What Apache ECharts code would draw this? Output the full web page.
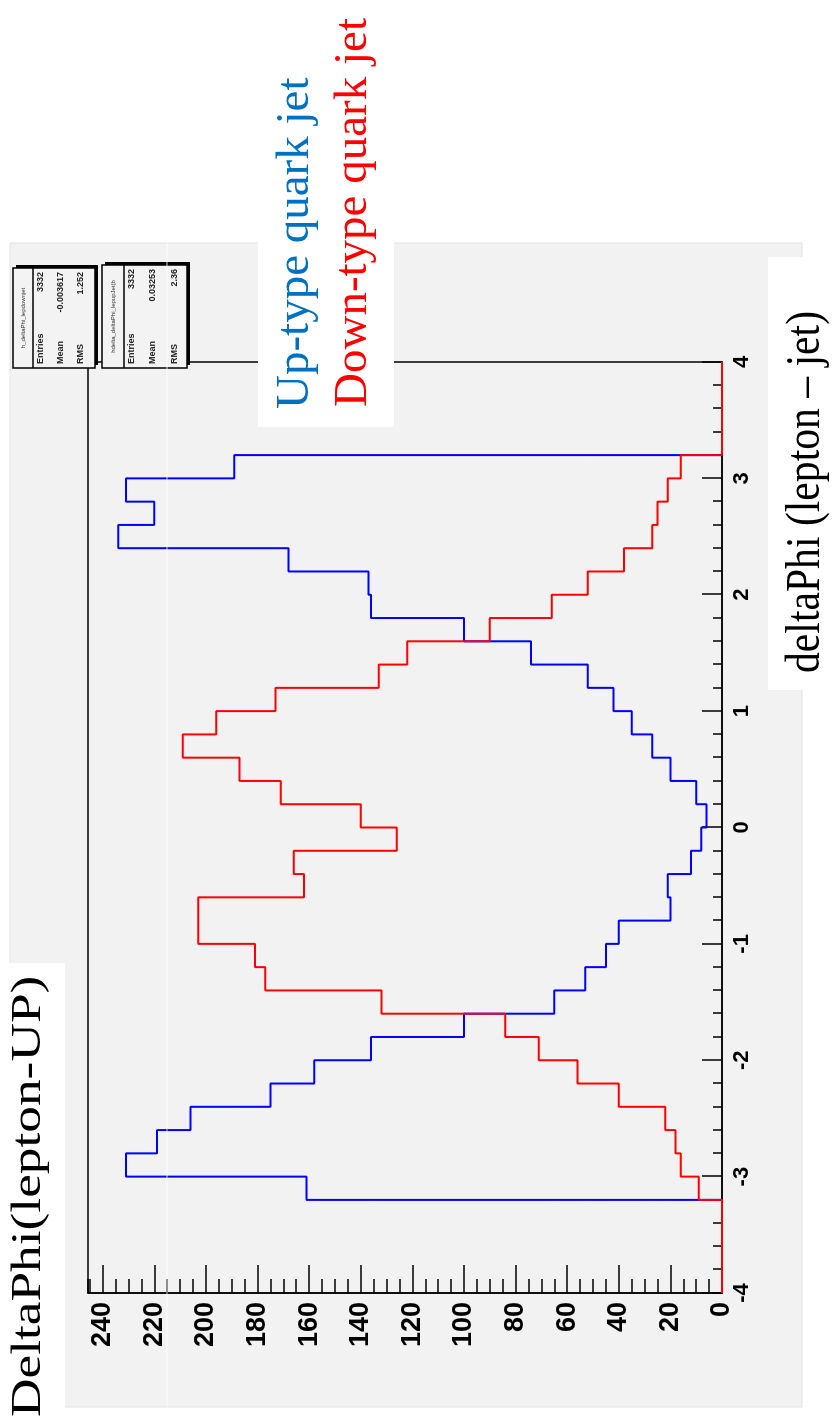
<!DOCTYPE html>
<html>
<head>
<meta charset="utf-8">
<title>deltaPhi lepton - jet</title>
<script src="https://cdn.jsdelivr.net/npm/echarts@6.0.0/dist/echarts.min.js"></script>
<style>
  html, body { margin: 0; padding: 0; background: #fff; }
  body { width: 833px; height: 1427px; overflow: hidden; position: relative; }
  /* the ROOT canvas sits on the slide turned a quarter left: draw it upright and turn the box */
  #chart {
    position: absolute; left: 0; top: 0;
    width: 1427px; height: 833px;
    transform-origin: 0 0;
    transform: translate(0, 1427px) rotate(-90deg);
  }
</style>
</head>
<body>
<div id="chart"></div>
<script>
// 40 bins of 0.2 from -4 to 4
const binEdges = [-4, -3.8, -3.6, -3.4, -3.2, -3, -2.8, -2.6, -2.4, -2.2, -2, -1.8, -1.6, -1.4, -1.2, -1, -0.8, -0.6, -0.4, -0.2,
  0, 0.2, 0.4, 0.6, 0.8, 1, 1.2, 1.4, 1.6, 1.8, 2, 2.2, 2.4, 2.6, 2.8, 3, 3.2, 3.4, 3.6, 3.8, 4]
const upCounts = [0, 0, 0, 0, 161, 231, 219, 206, 175, 158, 136, 100, 65, 53, 45, 40, 20, 21, 12, 8,
  6, 10, 20, 27, 35, 42, 52, 74, 100, 136, 137, 168, 234, 220, 231, 189, 0, 0, 0, 0]
const downCounts = [0, 0, 0, 0, 9, 16, 18, 22, 40, 56, 71, 84, 132, 177, 181, 203, 203, 162, 166, 126,
  140, 171, 187, 209, 196, 173, 133, 122, 90, 66, 52, 38, 27, 25, 21, 16, 0, 0, 0, 0]
const countMax = 245.7
const statLabels = ['Entries', 'Mean', 'RMS']
const downStats = ['3332', '-0.003617', '1.252']
const upStats = ['3332', '0.03253', '2.36']

const serif = '"Liberation Serif", "Times New Roman", serif'
const sans = '"Liberation Sans", Arial, sans-serif'

function steps(counts) {
  return binEdges.map((e, i) => [e, counts[Math.min(i, counts.length - 1)]])
}

function statsBox(x, y, w, h, titleH, title, rowY, values) {
  const els = [
    { type: 'rect', z: 40, shape: { x: x + 3, y: y + 3, width: w, height: h }, style: { fill: '#000' } },
    { type: 'rect', z: 41, shape: { x: x, y: y, width: w, height: h }, style: { fill: '#f3f3f3', stroke: '#000', lineWidth: 1.5 } },
    { type: 'line', z: 42, shape: { x1: x, y1: y + titleH, x2: x + w, y2: y + titleH }, style: { stroke: '#000', lineWidth: 1.5 } },
    { type: 'text', z: 42, style: { text: title, x: x + w / 2, y: y + titleH / 2, align: 'center', verticalAlign: 'middle', font: '6px ' + sans, fill: '#333' } }
  ]
  statLabels.forEach((label, i) => {
    els.push({ type: 'text', z: 42, style: { text: label, x: x + 4, y: rowY[i], align: 'left', verticalAlign: 'middle', font: 'bold 9px ' + sans, fill: '#222' } })
    els.push({ type: 'text', z: 42, style: { text: values[i], x: x + w - 4, y: rowY[i], align: 'right', verticalAlign: 'middle', font: 'bold 9px ' + sans, fill: '#222' } })
  })
  return els
}

const myChart = echarts.init(document.getElementById('chart'))

myChart.setOption({
  animation: false,
  backgroundColor: '#fff',
  grid: {
    left: 134,
    right: 362,
    top: 88,
    bottom: 111,
    show: true,
    borderColor: '#000',
    borderWidth: 1.5,
    backgroundColor: 'transparent'
  },
  xAxis: {
    type: 'value',
    min: -4,
    max: 4,
    interval: 1,
    axisLine: { onZero: false, lineStyle: { color: '#000', width: 1.5 } },
    axisTick: { inside: true, length: 20, lineStyle: { color: '#000', width: 1.5 } },
    minorTick: { show: true, splitNumber: 5, length: 9, lineStyle: { color: '#000', width: 1.5 } },
    axisLabel: { margin: 9, color: '#000', fontFamily: sans, fontWeight: 'bold', fontSize: 22 },
    splitLine: { show: false },
    minorSplitLine: { show: false }
  },
  yAxis: [
    {
      type: 'value',
      min: 0,
      max: countMax,
      interval: 20,
      position: 'left',
      axisLine: { show: true, onZero: false, lineStyle: { color: '#000', width: 1.5 } },
      axisTick: { show: true, inside: true, length: 28, lineStyle: { color: '#000', width: 1.5 } },
      axisLabel: { margin: 9, showMaxLabel: false, color: '#000', fontFamily: sans, fontWeight: 'bold', fontSize: 27 },
      splitLine: { show: false }
    },
    {
      // small ticks every 5 counts
      type: 'value',
      min: 0,
      max: countMax,
      interval: 5,
      position: 'left',
      offset: 0,
      axisLine: { show: false, onZero: false },
      axisTick: { show: true, inside: true, length: 14, lineStyle: { color: '#000', width: 1.5 } },
      axisLabel: { show: false },
      splitLine: { show: false }
    }
  ],
  series: [
    {
      name: 'Up-type quark jet',
      type: 'line',
      step: 'end',
      data: steps(upCounts),
      yAxisIndex: 0,
      showSymbol: false,
      clip: false,
      z: 3,
      lineStyle: { color: '#0000ff', width: 2 },
      itemStyle: { color: '#0000ff' }
    },
    {
      name: 'Down-type quark jet',
      type: 'line',
      step: 'end',
      data: steps(downCounts),
      yAxisIndex: 0,
      showSymbol: false,
      clip: false,
      z: 4,
      lineStyle: { color: '#ff0000', width: 2 },
      itemStyle: { color: '#ff0000' }
    }
  ],
  graphic: [
    // grey ROOT canvas
    { type: 'rect', z: -10, shape: { x: 20, y: 10, width: 1164, height: 792 }, style: { fill: '#f2f2f2', stroke: '#e2e2e2', lineWidth: 1 } },
    // faint scan line across the canvas
    { type: 'line', z: 50, shape: { x1: 20, y1: 167, x2: 1184, y2: 167 }, style: { stroke: '#ffffff', lineWidth: 1, opacity: 0.85 } }
  ]
    .concat(statsBox(1059, 13, 100, 82, 20, 'h_deltaPhi_lepdownjet', [41, 61, 81], downStats))
    .concat(statsBox(1059, 102, 103, 85, 22, 'hdelta_deltaPhi_lepupJet(b', [131.5, 153, 175], upStats))
    .concat([
      // slide text boxes
      { type: 'rect', z: 60, shape: { x: 1000, y: 258, width: 427, height: 136 }, style: { fill: '#fff' } },
      { type: 'text', z: 61, x: 1018, y: 296, style: { text: 'Up-type quark jet', x: 0, y: 0, align: 'left', verticalAlign: 'middle', font: '47px ' + serif, fill: '#0070c0' } },
      { type: 'text', z: 61, x: 1020, y: 354, style: { text: 'Down-type quark jet', x: 0, y: 0, align: 'left', verticalAlign: 'middle', font: '47px ' + serif, fill: '#ff0000' } },
      { type: 'rect', z: 60, shape: { x: 0, y: 0, width: 464, height: 65 }, style: { fill: '#fff' } },
      { type: 'text', z: 61, x: 10, y: 29, scaleX: 1.24, style: { text: 'DeltaPhi(lepton-UP)', x: 0, y: 0, align: 'left', verticalAlign: 'middle', font: '43px ' + serif, fill: '#000' } },
      { type: 'rect', z: 60, shape: { x: 737, y: 768, width: 433, height: 65 }, style: { fill: '#fff' } },
      { type: 'text', z: 61, x: 754, y: 806, scaleX: 0.85, style: { text: 'deltaPhi (lepton \u2013 jet)', x: 0, y: 0, align: 'left', verticalAlign: 'middle', font: '49px ' + serif, fill: '#000' } }
    ])
})
</script>
</body>
</html>
